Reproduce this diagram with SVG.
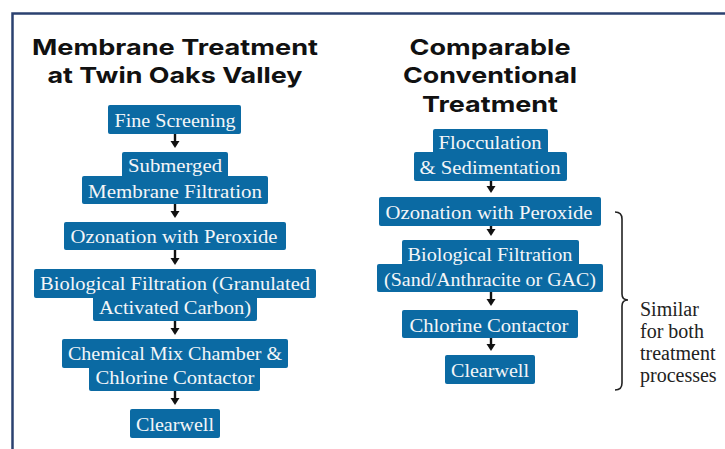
<svg xmlns="http://www.w3.org/2000/svg" width="725" height="449" viewBox="0 0 725 449">
<style>
.title{font-family:Inter,"Open Sans","Liberation Sans",sans-serif;font-weight:700;font-size:22px;fill:#111;text-anchor:middle}
.box{fill:#0b6aa3;rx:2}
.lbl{font-family:"Liberation Serif","DejaVu Serif",serif;font-size:19px;fill:#f4f6f8;text-anchor:middle}
.note{font-family:"Liberation Serif","DejaVu Serif",serif;font-size:20px;fill:#222}
.shaft{stroke:#111;stroke-width:2.4}
.head{fill:#111}
</style>
<rect width="725" height="449" fill="#fff"/>
<path d="M12.5,449 V13.5 H725" fill="none" stroke="#2b4170" stroke-width="2.5"/>

<g id="title-left">
<text class="title" x="175" y="55" textLength="286" lengthAdjust="spacingAndGlyphs">Membrane Treatment</text>
<text class="title" x="175" y="83" textLength="255" lengthAdjust="spacingAndGlyphs">at Twin Oaks Valley</text>
</g>
<g id="title-right">
<text class="title" x="490" y="55" textLength="161" lengthAdjust="spacingAndGlyphs">Comparable</text>
<text class="title" x="490" y="83" textLength="174" lengthAdjust="spacingAndGlyphs">Conventional</text>
<text class="title" x="490" y="112" textLength="136" lengthAdjust="spacingAndGlyphs">Treatment</text>
</g>

<g id="connectors">
<line class="shaft" x1="175" y1="134" x2="175" y2="142"/><polygon class="head" points="170.5,141 179.5,141 175,148"/>
<line class="shaft" x1="175" y1="204" x2="175" y2="212"/><polygon class="head" points="170.5,211 179.5,211 175,218"/>
<line class="shaft" x1="175" y1="250" x2="175" y2="259"/><polygon class="head" points="170.5,258 179.5,258 175,265"/>
<line class="shaft" x1="175" y1="321" x2="175" y2="329"/><polygon class="head" points="170.5,328 179.5,328 175,335"/>
<line class="shaft" x1="175" y1="391" x2="175" y2="399"/><polygon class="head" points="170.5,398 179.5,398 175,405"/>
<line class="shaft" x1="491" y1="181" x2="491" y2="187"/><polygon class="head" points="486.5,186 495.5,186 491,193"/>
<line class="shaft" x1="491" y1="226" x2="491" y2="230"/><polygon class="head" points="486.5,229 495.5,229 491,236"/>
<line class="shaft" x1="491" y1="292" x2="491" y2="300"/><polygon class="head" points="486.5,299 495.5,299 491,306"/>
<line class="shaft" x1="491" y1="338" x2="491" y2="345"/><polygon class="head" points="486.5,344 495.5,344 491,351"/>
</g>

<g id="fine-screening">
<rect class="box" x="108" y="105" width="133" height="29"/>
<text class="lbl" x="175" y="127" textLength="121" lengthAdjust="spacingAndGlyphs">Fine Screening</text>
</g>
<g id="submerged-membrane">
<rect class="box" x="122" y="152" width="106" height="26"/>
<rect class="box" x="82" y="176" width="186" height="28"/>
<text class="lbl" x="175" y="172" textLength="94" lengthAdjust="spacingAndGlyphs">Submerged</text>
<text class="lbl" x="175" y="198" textLength="174" lengthAdjust="spacingAndGlyphs">Membrane Filtration</text>
</g>
<g id="ozonation-left">
<rect class="box" x="64" y="222" width="222" height="28"/>
<text class="lbl" x="174" y="243" textLength="207" lengthAdjust="spacingAndGlyphs">Ozonation with Peroxide</text>
</g>
<g id="bio-filtration-left">
<rect class="box" x="34" y="269" width="282" height="29"/>
<rect class="box" x="93" y="296" width="164" height="25"/>
<text class="lbl" x="175" y="290" textLength="270" lengthAdjust="spacingAndGlyphs">Biological Filtration (Granulated</text>
<text class="lbl" x="175" y="314" textLength="152" lengthAdjust="spacingAndGlyphs">Activated Carbon)</text>
</g>
<g id="chemical-mix">
<rect class="box" x="62" y="339" width="226" height="29"/>
<rect class="box" x="89" y="366" width="171" height="25"/>
<text class="lbl" x="175" y="360" textLength="214" lengthAdjust="spacingAndGlyphs">Chemical Mix Chamber &amp;</text>
<text class="lbl" x="175" y="384" textLength="159" lengthAdjust="spacingAndGlyphs">Chlorine Contactor</text>
</g>
<g id="clearwell-left">
<rect class="box" x="130" y="409" width="90" height="29"/>
<text class="lbl" x="175" y="431" textLength="78" lengthAdjust="spacingAndGlyphs">Clearwell</text>
</g>

<g id="flocculation">
<rect class="box" x="433" y="129" width="115" height="25"/>
<rect class="box" x="414" y="152" width="153" height="29"/>
<text class="lbl" x="490" y="149" textLength="103" lengthAdjust="spacingAndGlyphs">Flocculation</text>
<text class="lbl" x="490" y="174" textLength="141" lengthAdjust="spacingAndGlyphs">&amp; Sedimentation</text>
</g>
<g id="ozonation-right">
<rect class="box" x="379" y="197" width="222" height="29"/>
<text class="lbl" x="489" y="219" textLength="207" lengthAdjust="spacingAndGlyphs">Ozonation with Peroxide</text>
</g>
<g id="bio-filtration-right">
<rect class="box" x="402" y="240" width="177" height="26"/>
<rect class="box" x="377" y="264" width="226" height="28"/>
<text class="lbl" x="490" y="261" textLength="165" lengthAdjust="spacingAndGlyphs">Biological Filtration</text>
<text class="lbl" x="490" y="286" textLength="212" lengthAdjust="spacingAndGlyphs">(Sand/Anthracite or GAC)</text>
</g>
<g id="chlorine-contactor">
<rect class="box" x="402" y="310" width="176" height="28"/>
<text class="lbl" x="489" y="332" textLength="159" lengthAdjust="spacingAndGlyphs">Chlorine Contactor</text>
</g>
<g id="clearwell-right">
<rect class="box" x="445" y="355" width="90" height="29"/>
<text class="lbl" x="490" y="377" textLength="78" lengthAdjust="spacingAndGlyphs">Clearwell</text>
</g>

<g id="brace">
<path d="M615,212 Q622,212 622,219 V294 Q622,300 628,300 Q622,300 622,306 V383 Q622,390 615,390" fill="none" stroke="#222" stroke-width="1.6"/>
<text class="note" x="640" y="316">Similar</text>
<text class="note" x="640" y="338">for both</text>
<text class="note" x="640" y="360">treatment</text>
<text class="note" x="640" y="382">processes</text>
</g>
</svg>
